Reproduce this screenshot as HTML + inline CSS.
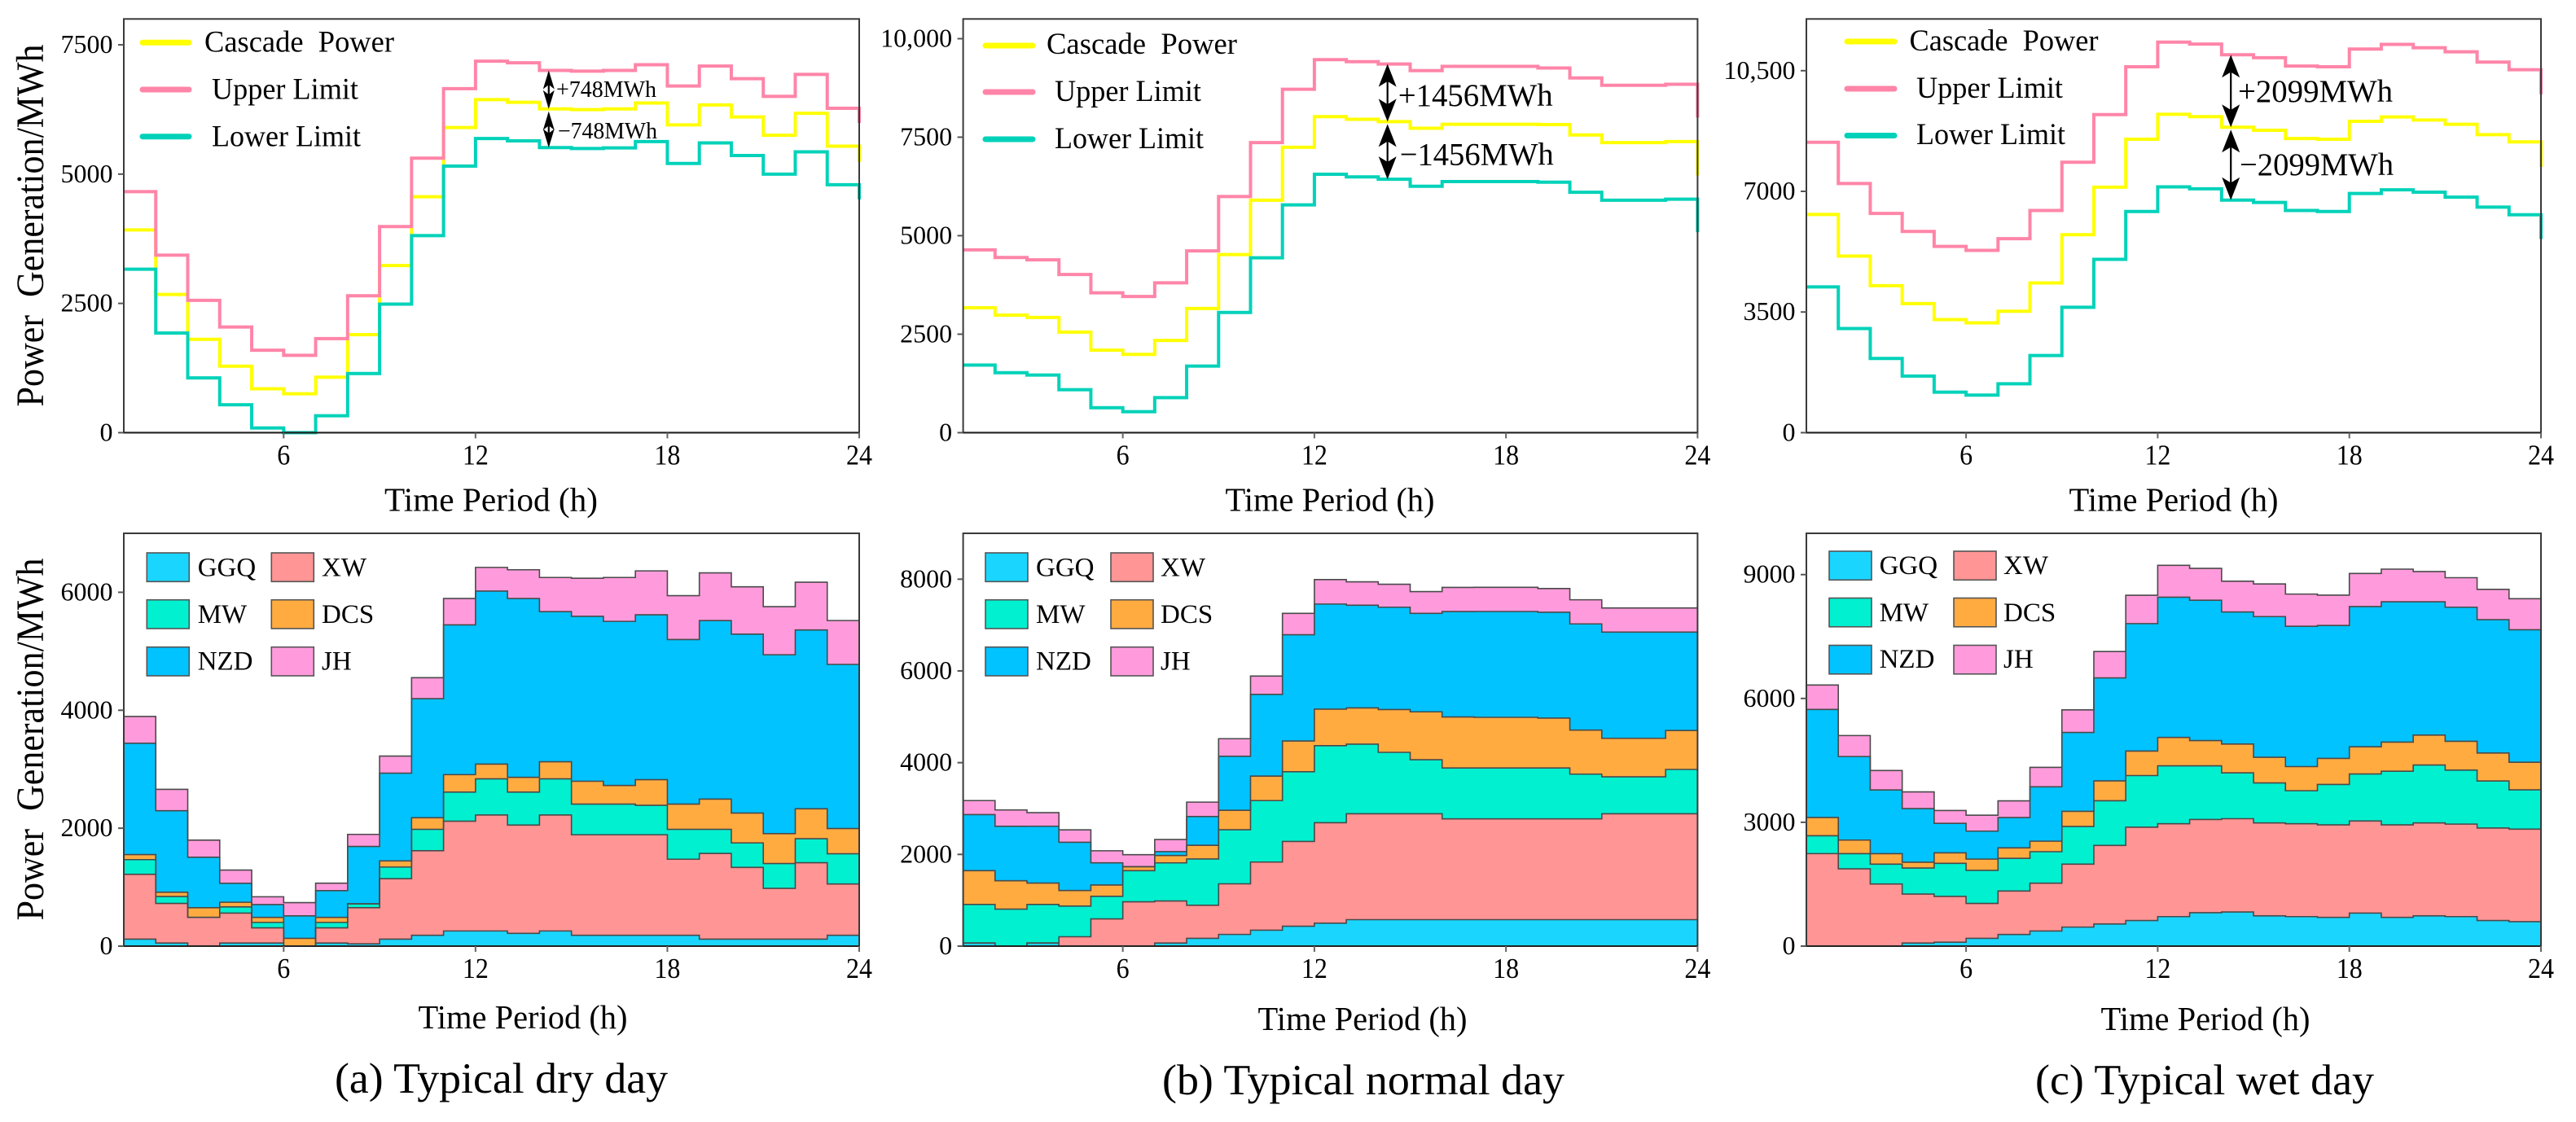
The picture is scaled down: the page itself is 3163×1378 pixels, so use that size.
<!DOCTYPE html>
<html lang="en">
<head>
<meta charset="utf-8">
<title>Cascade power generation on typical days</title>
<style>
html,body{margin:0;padding:0;background:#fff;}
svg{display:block;}
text{font-family:"Liberation Serif",serif;fill:#000;white-space:pre;}
</style>
</head>
<body>
<svg id="figure" xmlns="http://www.w3.org/2000/svg" width="3163" height="1378" viewBox="0 0 3163 1378"></svg>
<script>
// ---------- shared categories ----------
const hours = [1,2,3,4,5,6,7,8,9,10,11,12,13,14,15,16,17,18,19,20,21,22,23,24];
const xTicks = [6,12,18,24];
const lineLegendNames = ['Cascade  Power','Upper Limit','Lower Limit'];
const stationNames = ['GGQ','XW','MW','DCS','NZD','JH'];

// ---------- top row: cascade power with upper / lower limits (MWh) ----------
const cascadeDry = [3920,2674,1806,1285,848,752,1073,1896,3233,4563,5900,6440,6388,6260,6247,6260,6376,5951,6337,6106,5752,6176,5540,5238];
const upperDry   = [4660,3432,2558,2044,1594,1497,1819,2648,3985,5309,6652,7185,7153,7005,6992,7005,7115,6703,7089,6845,6504,6928,6273,5990];
const lowerDry   = [3162,1928,1060,540,90,0,328,1144,2487,3811,5154,5688,5643,5514,5495,5508,5630,5206,5604,5360,5000,5431,4795,4512];

const cascadeNormal = [3170,2984,2925,2553,2096,1986,2341,3153,4522,5900,7244,8022,7954,7895,7726,7827,7827,7827,7819,7557,7363,7363,7388,6526];
const upperNormal   = [4641,4446,4387,4015,3550,3457,3804,4615,5993,7363,8715,9467,9417,9357,9188,9298,9298,9298,9256,9002,8816,8816,8842,7997];
const lowerNormal   = [1716,1522,1462,1090,634,533,888,1691,3052,4438,5782,6560,6492,6433,6255,6374,6374,6374,6357,6103,5900,5900,5926,5089];

const cascadeWet = [6330,5124,4265,3744,3281,3185,3522,4343,5742,7122,8511,9235,9168,8859,8772,8531,8511,9032,9158,9071,8946,8646,8434,7710];
const upperWet   = [8424,7228,6359,5838,5404,5288,5626,6446,7845,9225,10615,11329,11271,10962,10876,10634,10615,11126,11262,11165,11049,10750,10528,9814];
const lowerWet   = [4227,3020,2152,1641,1177,1090,1419,2239,3638,5028,6417,7131,7073,6745,6678,6446,6417,6938,7045,6977,6832,6543,6321,5616];

const topTicksDry = [0,2500,5000,7500];
const topTickLabelsDry = ['0','2500','5000','7500'];
const topTicksNormal = [0,2500,5000,7500,10000];
const topTickLabelsNormal = ['0','2500','5000','7500','10,000'];
const topTicksWet = [0,3500,7000,10500];
const topTickLabelsWet = ['0','3500','7000','10,500'];

// ---------- bottom row: station generation, stacked (MWh) ----------
const ggqDry = [118,53,0,53,53,0,53,39,118,184,257,257,217,257,184,184,184,184,118,118,118,118,184,184];
const xwDry  = [1099,671,487,507,257,0,257,612,1026,1434,1862,1967,1836,1967,1704,1704,1704,1290,1454,1217,862,1296,869,869];
const mwDry  = [250,118,0,105,92,0,92,66,197,362,493,612,559,612,520,520,500,507,408,415,421,408,513,513];
const dcsDry = [86,72,165,79,86,132,86,0,105,197,296,250,250,290,388,316,434,428,513,507,507,507,428,428];
const nzdDry = [1888,1382,855,322,217,382,454,974,1487,2020,2540,2935,3033,2546,2797,2783,2797,2790,3027,3033,3033,3033,2783,2783];
const jhDry  = [454,362,290,224,132,224,125,204,290,355,447,401,487,579,645,744,744,744,809,803,816,809,744,744];

const ggqNormal = [68,0,68,0,0,0,68,170,255,348,433,501,577,577,577,577,577,577,577,577,577,577,577,577];
const xwNormal  = [0,0,0,204,594,967,916,721,1103,1485,1850,2189,2308,2308,2308,2197,2197,2197,2197,2197,2308,2308,2308,2308];
const mwNormal  = [840,806,840,670,492,679,831,1010,1179,1340,1519,1680,1519,1340,1179,1111,1111,1111,1111,976,806,806,967,967];
const dcsNormal = [738,619,467,339,246,85,161,297,424,534,670,797,789,933,1044,1111,1103,1103,1086,959,840,840,848,848];
const nzdNormal = [1222,1188,1239,1052,484,0,85,628,1179,1782,2316,2291,2240,2231,2146,2299,2308,2308,2308,2316,2316,2316,2146,2146];
const jhNormal  = [305,356,297,271,263,263,263,314,382,399,467,534,509,501,475,526,526,526,518,526,526,526,526,526];

const ggqWet = [0,0,0,75,94,188,282,367,461,537,621,715,810,828,734,715,697,800,697,734,715,621,593,593];
const xwWet  = [2241,1873,1506,1186,1111,847,1054,1158,1525,1902,2259,2250,2259,2259,2250,2250,2241,2231,2241,2250,2241,2241,2241,2241];
const mwWet  = [433,367,480,631,800,800,791,763,913,1083,1252,1403,1299,1111,970,800,979,1139,1299,1403,1309,1139,951,951];
const dcsWet = [442,329,254,141,254,273,254,254,367,480,593,687,612,697,621,584,631,659,706,725,697,678,668,668];
const nzdWet = [2617,2024,1544,1299,715,678,734,1318,1911,2495,3088,3398,3398,3201,3408,3398,3220,3398,3398,3229,3248,3229,3210,3210];
const jhWet  = [593,508,471,405,311,386,405,471,546,640,687,772,772,744,791,781,734,800,791,734,715,734,753,753];

const bottomTicksDry = [0,2000,4000,6000];
const bottomTicksNormal = [0,2000,4000,6000,8000];
const bottomTicksWet = [0,3000,6000,9000];

// ---------- styling ----------
const lineColors = ['#ffff00','#ff85a8','#00d2b9'];
const stationColors = ['#1ad6ff','#ff9595','#00f0d0','#ffab40','#00c3ff','#ff9bdc'];

const svg = document.getElementById('figure');
const NS = 'http://www.w3.org/2000/svg';

function add(parent, tag, attrs, name) {
  const el = document.createElementNS(NS, tag);
  for (const k in attrs) el.setAttribute(k, attrs[k]);
  
  
  parent.appendChild(el);
  return el;
}
function label(parent, x, y, str, size, name, anchor, len, rot) {
  const a = {x: x, y: y, 'font-size': size, 'text-anchor': anchor || 'start'};
  if (len) { a.textLength = len; a.lengthAdjust = 'spacingAndGlyphs'; }
  if (rot) a.transform = 'rotate(' + rot + ' ' + x + ' ' + y + ')';
  const t = add(parent, 'text', a, name);
  t.textContent = str;
  return t;
}
function makeX(p) { return h => p.left + (h - 1) / (hours.length - 1) * (p.right - p.left); }
function makeY(p) { return v => p.bottom - v / p.max * (p.bottom - p.top); }

function stepLine(values, x, y) {
  let d = 'M' + x(hours[0]) + ' ' + y(values[0]);
  for (let i = 1; i < hours.length; i++) {
    d += 'H' + x(hours[i]) + 'V' + y(values[i]);
  }
  return d;
}
function stepArea(lower, upper, x, y) {
  let d = stepLine(upper, x, y);
  d += 'V' + y(lower[hours.length - 1]);
  for (let i = hours.length - 2; i >= 0; i--) {
    d += 'V' + y(lower[i]) + 'H' + x(hours[i]);
  }
  return d + 'Z';
}

function drawAxes(g, p, x, y, ticks, tickLabels) {
  add(g, 'rect', {x: p.left, y: p.top, width: p.right - p.left, height: p.bottom - p.top, fill: 'none', stroke: '#3a3a3a', 'stroke-width': 2}, 'plot-frame');
  add(g, 'line', {x1: p.left, x2: p.right, y1: p.bottom, y2: p.bottom, stroke: '#222', 'stroke-width': 2}, 'x-axis-line');
  ticks.forEach((t, i) => {
    add(g, 'line', {x1: p.left - 7, x2: p.left, y1: y(t), y2: y(t), stroke: '#555', 'stroke-width': 2}, 'y-tick');
    label(g, p.left - 13.5, y(t) + 10, tickLabels[i], 32, 'y-tick-label', 'end');
  });
  xTicks.forEach(t => {
    add(g, 'line', {x1: x(t), x2: x(t), y1: p.bottom, y2: p.bottom + 7, stroke: '#666', 'stroke-width': 2}, 'x-tick');
    label(g, x(t), p.bottom + 39, String(t), 35, 'x-tick-label', 'middle', String(t).length * 16);
  });
  label(g, p.titleX, p.titleY, 'Time Period (h)', 41, 'x-axis-title', 'middle', p.titleLen);
  if (p.yTitleY) {
    label(g, 53, p.yTitleY, 'Power  Generation/MWh', 48, 'y-axis-title', 'middle', 445, -90);
  }
}

function arrowHead(g, px, py, dir, hw, hl) {
  const notch = hl * 0.76;
  const d = 'M' + px + ' ' + py +
    'L' + (px - hw) + ' ' + (py + dir * hl) +
    'L' + px + ' ' + (py + dir * notch) +
    'L' + (px + hw) + ' ' + (py + dir * hl) + 'Z';
  add(g, 'path', {d: d, fill: '#000'}, 'arrow-head');
}
function doubleArrow(g, px, y1, y2, hw, hl, name) {
  add(g, 'line', {x1: px, x2: px, y1: y1 + 3, y2: y2 - 3, stroke: '#000', 'stroke-width': 2.2}, name);
  arrowHead(g, px, y1, 1, hw, hl);
  arrowHead(g, px, y2, -1, hw, hl);
}

function drawTopPanel(p) {
  const g = add(svg, 'g', {}, p.name);
  const x = makeX(p), y = makeY(p);
  [p.cascade, p.upper, p.lower].forEach((vals, i) => {
    add(g, 'path', {d: stepLine(vals, x, y), fill: 'none', stroke: lineColors[i], 'stroke-width': 4, 'stroke-linejoin': 'miter'}, 'series-' + ['cascade-power','upper-limit','lower-limit'][i]);
  });
  drawAxes(g, p, x, y, p.ticks, p.tickLabels);
  lineLegendNames.forEach((n, i) => {
    add(g, 'line', {x1: p.legX1, x2: p.legX2, y1: p.legY[i], y2: p.legY[i], stroke: lineColors[i], 'stroke-width': 7, 'stroke-linecap': 'round'}, 'legend-line');
    label(g, p.legTextX[i], p.legTextY[i], n, 37, 'legend-label', 'start', p.legTextLen[i]);
  });
  const idx = 13;
  const ax = x(14.29);
  doubleArrow(g, ax, y(p.upper[idx]), y(p.cascade[idx]), p.hw, p.hl, 'upper-margin-arrow');
  doubleArrow(g, ax, y(p.cascade[idx]) + 3, y(p.lower[idx]), p.hw, p.hl, 'lower-margin-arrow');
  label(g, p.annX, p.annY[0], p.annText[0], p.annSize, 'upper-margin-label', 'start', p.annLen);
  label(g, p.annX + 2, p.annY[1], p.annText[1], p.annSize, 'lower-margin-label', 'start', p.annLen - 1);
}

function drawBottomPanel(p) {
  const g = add(svg, 'g', {}, p.name);
  const x = makeX(p), y = makeY(p);
  let base = hours.map(() => 0);
  const boundaries = [];
  p.stack.forEach((vals, k) => {
    const next = base.map((b, i) => b + vals[i]);
    add(g, 'path', {d: stepArea(base, next, x, y), fill: stationColors[k], stroke: 'none'}, 'area-' + stationNames[k].toLowerCase());
    boundaries.push(next);
    base = next;
  });
  boundaries.forEach((b, k) => {
    add(g, 'path', {d: stepLine(b, x, y), fill: 'none', stroke: '#4a4a4a', 'stroke-width': 1.6}, 'area-outline-' + stationNames[k].toLowerCase());
  });
  drawAxes(g, p, x, y, p.ticks, p.ticks.map(String));
  // legend is laid out column-first: GGQ/MW/NZD left, XW/DCS/JH right
  const layout = [[0,0],[1,0],[0,1],[1,1],[0,2],[1,2]];
  stationNames.forEach((n, k) => {
    const c = layout[k][0], r = layout[k][1];
    add(g, 'rect', {x: p.swX[c], y: p.swY[r], width: 52, height: 35.3, fill: stationColors[k], stroke: '#555', 'stroke-width': 1.6}, 'legend-swatch');
    label(g, p.swTextX[c], p.swTextY[r], n, 33, 'legend-label', 'start');
  });
  label(svg, p.capX, p.capY, p.caption, 53, 'panel-caption', 'middle', p.capLen);
}

const panelsTop = [
  {name:'panel-a-limits', left:152, right:1055, top:23.3, bottom:531.4, max:8000,
   cascade:cascadeDry, upper:upperDry, lower:lowerDry, ticks:topTicksDry, tickLabels:topTickLabelsDry,
   titleX:603, titleY:627.3, titleLen:262, yTitleY:277,
   legX1:175, legX2:232, legY:[52.3,110,167.7], legTextX:[251,260,260], legTextY:[63.3,121.7,179.3], legTextLen:[233,180,183],
   hw:7, hl:23, annX:683, annY:[119,170], annText:['+748MWh','\u2212748MWh'], annSize:28, annLen:123},
  {name:'panel-b-limits', left:1182.6, right:2084.4, top:23.3, bottom:531.4, max:10500,
   cascade:cascadeNormal, upper:upperNormal, lower:lowerNormal, ticks:topTicksNormal, tickLabels:topTickLabelsNormal,
   titleX:1633, titleY:627.3, titleLen:257,
   legX1:1210, legX2:1268, legY:[56,113,171], legTextX:[1285,1295,1295], legTextY:[66,124,182], legTextLen:[234,180,183],
   hw:11, hl:28, annX:1716.7, annY:[130,202.7], annText:['+1456MWh','\u22121456MWh'], annSize:39, annLen:190},
  {name:'panel-c-limits', left:2218, right:3120, top:23.3, bottom:531.4, max:12000,
   cascade:cascadeWet, upper:upperWet, lower:lowerWet, ticks:topTicksWet, tickLabels:topTickLabelsWet,
   titleX:2669, titleY:627.3, titleLen:257,
   legX1:2268, legX2:2326, legY:[51,109,166.5], legTextX:[2344.5,2353,2353], legTextY:[62,120,177], legTextLen:[232,180,183],
   hw:11, hl:28, annX:2748, annY:[125,215], annText:['+2099MWh','\u22122099MWh'], annSize:39, annLen:190}
];

const panelsBottom = [
  {name:'panel-a-stack', left:152, right:1055, top:655, bottom:1162, max:7000,
   stack:[ggqDry,xwDry,mwDry,dcsDry,nzdDry,jhDry], ticks:bottomTicksDry,
   titleX:642, titleY:1263, titleLen:257, yTitleY:908,
   swX:[180.3,333.3], swY:[679,736.7,794.7], swTextX:[242.7,395], swTextY:[707.7,765,822.7],
   caption:'(a) Typical dry day', capX:615.5, capY:1342, capLen:409},
  {name:'panel-b-stack', left:1182.6, right:2084.4, top:655, bottom:1162, max:9000,
   stack:[ggqNormal,xwNormal,mwNormal,dcsNormal,nzdNormal,jhNormal], ticks:bottomTicksNormal,
   titleX:1673, titleY:1265, titleLen:257,
   swX:[1210,1364], swY:[679,736.7,794.7], swTextX:[1272,1425], swTextY:[707.7,765,822.7],
   caption:'(b) Typical normal day', capX:1674, capY:1344, capLen:494},
  {name:'panel-c-stack', left:2218, right:3120, top:655, bottom:1162, max:10000,
   stack:[ggqWet,xwWet,mwWet,dcsWet,nzdWet,jhWet], ticks:bottomTicksWet,
   titleX:2708, titleY:1265, titleLen:257,
   swX:[2246,2399], swY:[677,734.5,792.5], swTextX:[2307.6,2460], swTextY:[705,763,820],
   caption:'(c) Typical wet day', capX:2707, capY:1344, capLen:416}
];

panelsTop.forEach(drawTopPanel);
panelsBottom.forEach(drawBottomPanel);
</script>
</body>
</html>
